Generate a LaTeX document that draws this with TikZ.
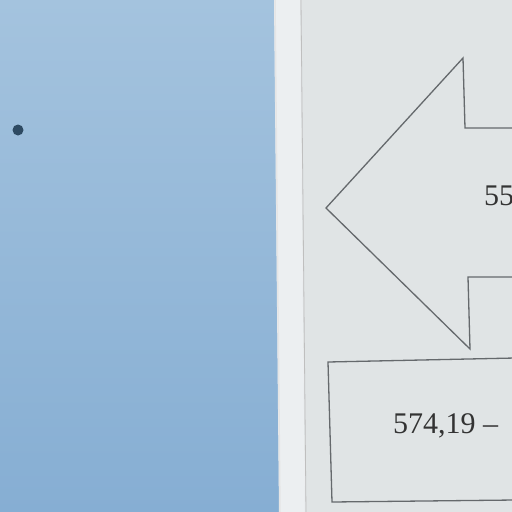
\documentclass[tikz,border=0pt]{standalone}
\usepackage{fontspec}
\setmainfont{Liberation Serif}
\definecolor{skyA}{HTML}{A4C3DE}
\definecolor{skyB}{HTML}{86AED3}
\definecolor{paper}{HTML}{E0E4E5}
\definecolor{paperedge}{HTML}{ECEFF1}
\definecolor{ink}{HTML}{65696C}
\definecolor{dotc}{HTML}{2E4A62}
\tikzset{
  outline/.style={draw=ink, line width=1.3pt, line join=miter},
  numtext/.style={font=\fontsize{30}{30}\selectfont, text=black!80, inner sep=0pt, anchor=base west}
}
\begin{document}
\begin{tikzpicture}[x=1pt,y=-1pt]
\useasboundingbox (0,0) rectangle (512,512);
\clip (0,0) rectangle (512,512);
% blue surface
\shade[top color=skyA, bottom color=skyB] (0,0) rectangle (280,512);
% paper
\fill[paperedge] (274,0) -- (300,0) -- (305,512) -- (279,512) -- cycle;
\fill[paper] (300,0) -- (512,0) -- (512,512) -- (305,512) -- cycle;
\draw[draw=black!25, line width=0.8pt] (301,0) -- (306,512);
\draw[draw=black!10, line width=1.5pt] (275,0) -- (280,512);
% dot
\fill[dotc] (18,130) circle (5.5pt);
% arrow
\draw[outline] (515,128) -- (465,128) -- (463,58) -- (326,208) -- (470,349) -- (468,277) -- (515,277);
\node[numtext] (t1) at (484,205) {55};
% box
\draw[outline] (515,358) -- (328,362) -- (332,502) -- (515,500);
\node[numtext] (t2) at (393,433) {574,19 –};
\end{tikzpicture}
\end{document}
